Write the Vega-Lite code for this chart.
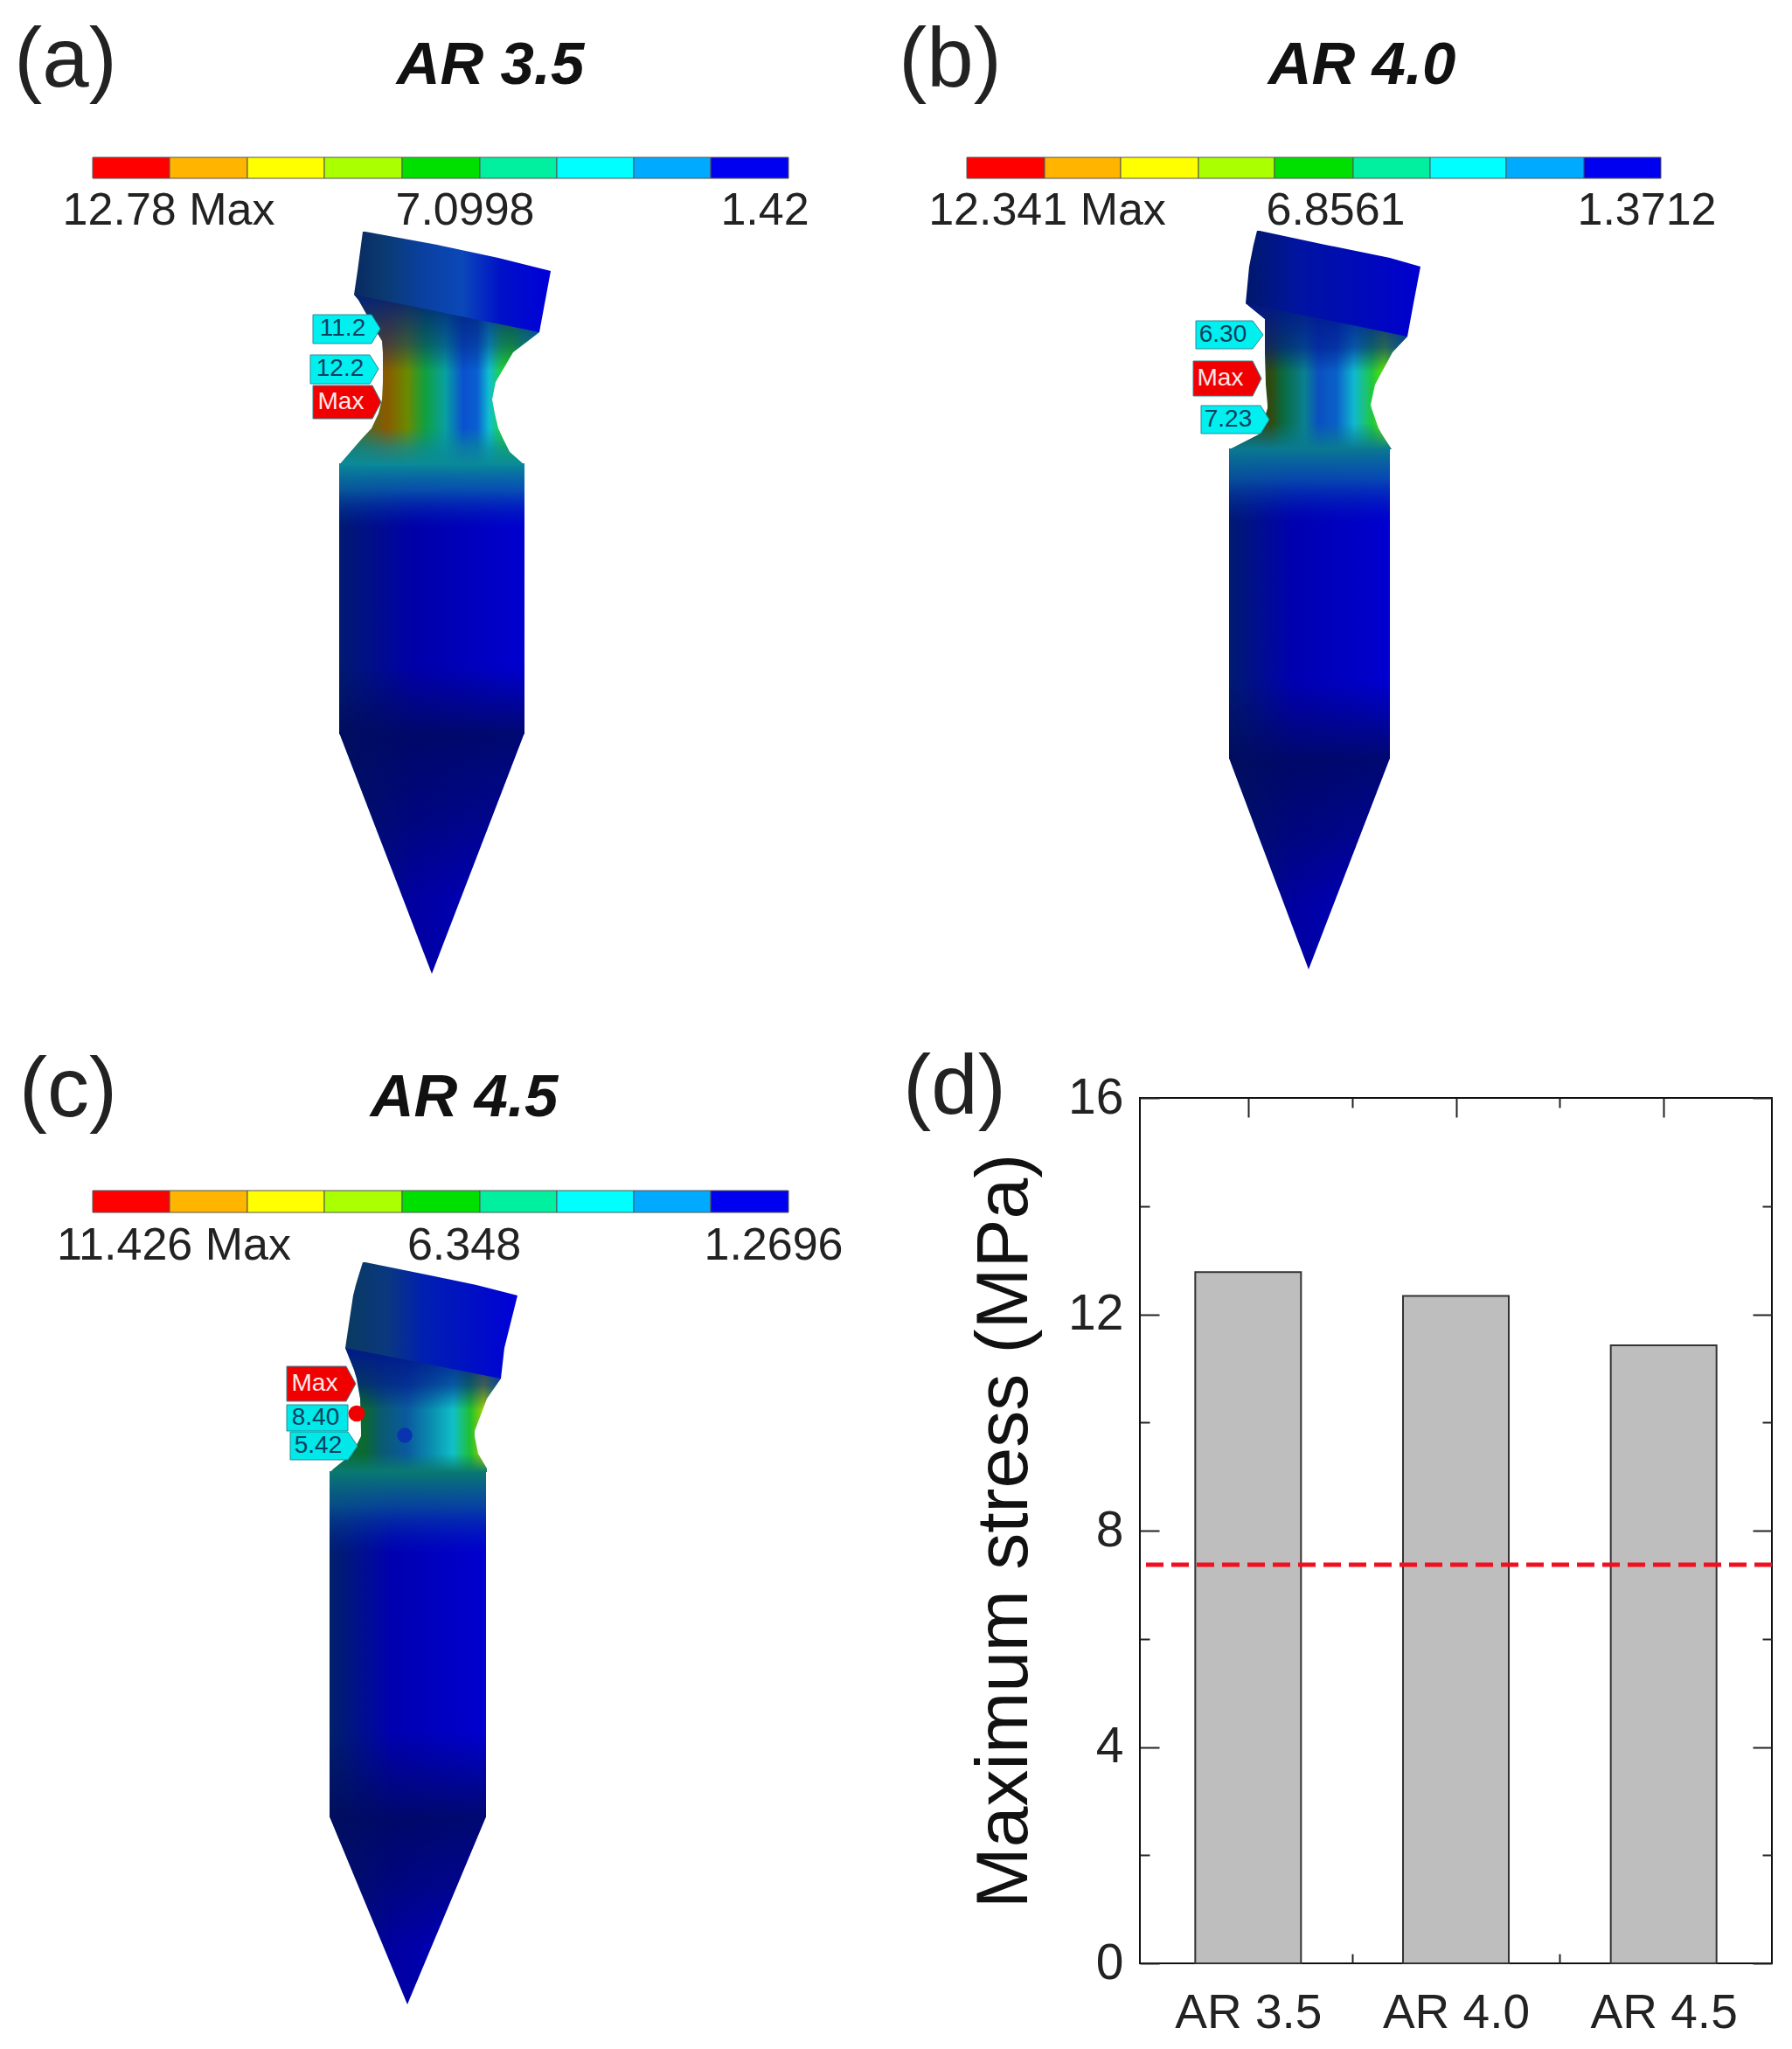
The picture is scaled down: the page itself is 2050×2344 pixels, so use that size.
{
"$schema":"https://vega.github.io/schema/vega-lite/v6.json",
"padding":0,
"background":"#ffffff",
"config":{"view":{"stroke":null},"font":"Liberation Sans","text":{"font":"Liberation Sans"}},
"spacing":26,
"vconcat":[
{"spacing":0,"hconcat":[
{"width":1025,"height":1170,
 "encoding":{"x":{"field":"xl","type":"quantitative","axis":null,"scale":{"domain":[0,1025],"nice":false,"zero":false}},"y":{"field":"y","type":"quantitative","axis":null,"scale":{"domain":[0,1170],"reverse":true,"nice":false,"zero":false}}},
 "resolve":{"scale":{"color":"independent"}},
 "layer":[
 {"data":{"values":[{"y":838,"xl":388,"xr":600},{"y":1114,"xl":494,"xr":494}]},"mark":{"type":"area","orient":"horizontal","color":{"gradient":"linear","x1":0,"y1":0,"x2":1,"y2":0,"stops":[{"offset":0,"color":"#001a70"},{"offset":0.4,"color":"#0000a0"},{"offset":1,"color":"#0000c8"}]}},"encoding":{"x2":{"field":"xr"}}},
 {"data":{"values":[{"y":838,"xl":388,"xr":600},{"y":1114,"xl":494,"xr":494}]},"mark":{"type":"area","orient":"horizontal","color":{"gradient":"linear","x1":0,"y1":0,"x2":0,"y2":1,"stops":[{"offset":0,"color":"rgba(0,10,90,0.8)"},{"offset":0.35,"color":"rgba(0,10,90,0.5)"},{"offset":0.7,"color":"rgba(0,10,90,0)"},{"offset":1,"color":"rgba(0,10,90,0)"}]}},"encoding":{"x2":{"field":"xr"}}},
 {"data":{"values":[{"y":530,"xl":388,"xr":600},{"y":840,"xl":388,"xr":600}]},"mark":{"type":"area","orient":"horizontal","color":{"gradient":"linear","x1":0,"y1":0,"x2":1,"y2":0,"stops":[{"offset":0,"color":"#001a70"},{"offset":0.4,"color":"#0000a8"},{"offset":1,"color":"#0000d0"}]}},"encoding":{"x2":{"field":"xr"}}},
 {"data":{"values":[{"y":530,"xl":388,"xr":600},{"y":840,"xl":388,"xr":600}]},"mark":{"type":"area","orient":"horizontal","color":{"gradient":"linear","x1":0,"y1":0,"x2":0,"y2":1,"stops":[{"offset":0,"color":"rgba(10,138,152,1)"},{"offset":0.1,"color":"rgba(10,110,170,0.7)"},{"offset":0.24,"color":"rgba(0,40,180,0)"},{"offset":0.75,"color":"rgba(0,10,90,0)"},{"offset":1,"color":"rgba(0,10,90,0.8)"}]}},"encoding":{"x2":{"field":"xr"}}},
 {"data":{"values":[{"y":337,"xl":405,"xr":610},{"y":343,"xl":410,"xr":612},{"y":380,"xl":431,"xr":617},{"y":390,"xl":437,"xr":604},{"y":403,"xl":438,"xr":587},{"y":437,"xl":438,"xr":567},{"y":457,"xl":437,"xr":563},{"y":473,"xl":433,"xr":566},{"y":490,"xl":425,"xr":570},{"y":503,"xl":413,"xr":576},{"y":517,"xl":401,"xr":583},{"y":532,"xl":388,"xr":600}]},"mark":{"type":"area","orient":"horizontal","color":{"gradient":"linear","x1":0,"y1":0,"x2":1,"y2":0,"stops":[{"offset":0,"color":"#0a7a50"},{"offset":0.24,"color":"#8a5a00"},{"offset":0.34,"color":"#6a8a00"},{"offset":0.43,"color":"#10a040"},{"offset":0.53,"color":"#08a0a0"},{"offset":0.62,"color":"#0a50d0"},{"offset":0.69,"color":"#0a60d0"},{"offset":0.75,"color":"#10c0d0"},{"offset":0.81,"color":"#20d040"},{"offset":0.86,"color":"#20d020"},{"offset":1,"color":"#10a0c0"}]}},"encoding":{"x2":{"field":"xr"}}},
 {"data":{"values":[{"y":337,"xl":405,"xr":610},{"y":343,"xl":410,"xr":612},{"y":380,"xl":431,"xr":617},{"y":390,"xl":437,"xr":604},{"y":403,"xl":438,"xr":587},{"y":437,"xl":438,"xr":567},{"y":457,"xl":437,"xr":563},{"y":473,"xl":433,"xr":566},{"y":490,"xl":425,"xr":570},{"y":503,"xl":413,"xr":576},{"y":517,"xl":401,"xr":583},{"y":532,"xl":388,"xr":600}]},"mark":{"type":"area","orient":"horizontal","color":{"gradient":"linear","x1":0,"y1":0,"x2":0,"y2":1,"stops":[{"offset":0,"color":"rgba(0,30,120,0.95)"},{"offset":0.3,"color":"rgba(0,30,120,0.45)"},{"offset":0.45,"color":"rgba(0,30,120,0)"},{"offset":0.78,"color":"rgba(10,138,152,0)"},{"offset":0.9,"color":"rgba(10,138,152,0.7)"},{"offset":1,"color":"rgba(10,138,152,1)"}]}},"encoding":{"x2":{"field":"xr"}}},
 {"data":{"values":[{"y":265,"xl":415,"xr":418},{"y":280,"xl":413,"xr":500},{"y":295,"xl":411,"xr":570},{"y":310,"xl":409,"xr":630},{"y":337,"xl":405,"xr":625},{"y":380,"xl":617,"xr":617}]},"mark":{"type":"area","orient":"horizontal","color":{"gradient":"linear","x1":0,"y1":0,"x2":1,"y2":0,"stops":[{"offset":0,"color":"#0a2a60"},{"offset":0.15,"color":"#0a3a70"},{"offset":0.35,"color":"#0a40a0"},{"offset":0.55,"color":"#0a48b8"},{"offset":0.75,"color":"#0010c8"},{"offset":1,"color":"#0000d8"}]}},"encoding":{"x2":{"field":"xr"}}},
 {"data":{"values":[{"tag":"11.2","kind":"value","y":360,"xl":358,"xr":425},{"tag":"11.2","kind":"value","y":376,"xl":358,"xr":435},{"tag":"11.2","kind":"value","y":393,"xl":358,"xr":425},{"tag":"12.2","kind":"value","y":406,"xl":355,"xr":423},{"tag":"12.2","kind":"value","y":422,"xl":355,"xr":433},{"tag":"12.2","kind":"value","y":439,"xl":355,"xr":423},{"tag":"Max","kind":"Max","y":441,"xl":358,"xr":426},{"tag":"Max","kind":"Max","y":460,"xl":358,"xr":436},{"tag":"Max","kind":"Max","y":479,"xl":358,"xr":426}]},"mark":{"type":"area","orient":"horizontal","stroke":"#2a8a9a","strokeWidth":1},"encoding":{"x2":{"field":"xr"},"detail":{"field":"tag"},"color":{"field":"kind","type":"nominal","legend":null,"scale":{"domain":["Max","value"],"range":["#f00000","#00f0f0"]}}}},
 {"data":{"values":[{"x":392,"y":376,"t":"11.2","kind":"value"},{"x":389,"y":422,"t":"12.2","kind":"value"},{"x":390,"y":460,"t":"Max","kind":"Max"}]},"mark":{"type":"text","fontSize":28,"align":"center","baseline":"middle"},"encoding":{"x":{"field":"x","type":"quantitative","axis":null},"text":{"field":"t"},"color":{"field":"kind","type":"nominal","legend":null,"scale":{"domain":["Max","value"],"range":["#ffe8e8","#0a4060"]}}}},
 {"data":{"values":[{"level":1,"x":106,"xe":194,"y":180,"ye":204},{"level":2,"x":194,"xe":283,"y":180,"ye":204},{"level":3,"x":283,"xe":371,"y":180,"ye":204},{"level":4,"x":371,"xe":460,"y":180,"ye":204},{"level":5,"x":460,"xe":549,"y":180,"ye":204},{"level":6,"x":549,"xe":637,"y":180,"ye":204},{"level":7,"x":637,"xe":725,"y":180,"ye":204},{"level":8,"x":725,"xe":813,"y":180,"ye":204},{"level":9,"x":813,"xe":902,"y":180,"ye":204}]},"mark":{"type":"rect","stroke":"#555555","strokeWidth":1},"encoding":{"x":{"field":"x","type":"quantitative","axis":null},"x2":{"field":"xe"},"y2":{"field":"ye"},"color":{"field":"level","type":"nominal","legend":null,"scale":{"domain":[1,2,3,4,5,6,7,8,9],"range":["#ff0000","#ffb400","#ffff00","#aaff00","#00e000","#00f0a0","#00ffff","#00aaff","#0000f0"]}}}},
 {"data":{"values":[{"x":193,"y":241,"t":"12.78 Max"},{"x":532,"y":241,"t":"7.0998"},{"x":875,"y":241,"t":"1.42"}]},"mark":{"type":"text","fontSize":52,"align":"center","baseline":"middle","color":"#222222"},"encoding":{"x":{"field":"x","type":"quantitative","axis":null},"text":{"field":"t"}}},
 {"data":{"values":[{"x":75,"y":70,"t":"(a)"}]},"mark":{"type":"text","fontSize":96,"align":"center","baseline":"middle","color":"#222222"},"encoding":{"x":{"field":"x","type":"quantitative","axis":null},"text":{"field":"t"}}},
 {"data":{"values":[{"x":561,"y":75,"t":"AR 3.5"}]},"mark":{"type":"text","fontSize":69,"fontWeight":"bold","fontStyle":"italic","align":"center","baseline":"middle","color":"#111111"},"encoding":{"x":{"field":"x","type":"quantitative","axis":null},"text":{"field":"t"}}}
 ]},
{"width":1025,"height":1170,
 "encoding":{"x":{"field":"xl","type":"quantitative","axis":null,"scale":{"domain":[1025,2050],"nice":false,"zero":false}},"y":{"field":"y","type":"quantitative","axis":null,"scale":{"domain":[0,1170],"reverse":true,"nice":false,"zero":false}}},
 "resolve":{"scale":{"color":"independent"}},
 "layer":[
 {"data":{"values":[{"y":867,"xl":1406,"xr":1590},{"y":1109,"xl":1497,"xr":1497}]},"mark":{"type":"area","orient":"horizontal","color":{"gradient":"linear","x1":0,"y1":0,"x2":1,"y2":0,"stops":[{"offset":0,"color":"#001a70"},{"offset":0.4,"color":"#0000a0"},{"offset":1,"color":"#0000c8"}]}},"encoding":{"x2":{"field":"xr"}}},
 {"data":{"values":[{"y":867,"xl":1406,"xr":1590},{"y":1109,"xl":1497,"xr":1497}]},"mark":{"type":"area","orient":"horizontal","color":{"gradient":"linear","x1":0,"y1":0,"x2":0,"y2":1,"stops":[{"offset":0,"color":"rgba(0,10,90,0.8)"},{"offset":0.35,"color":"rgba(0,10,90,0.5)"},{"offset":0.7,"color":"rgba(0,10,90,0)"},{"offset":1,"color":"rgba(0,10,90,0)"}]}},"encoding":{"x2":{"field":"xr"}}},
 {"data":{"values":[{"y":513,"xl":1406,"xr":1590},{"y":868,"xl":1406,"xr":1590}]},"mark":{"type":"area","orient":"horizontal","color":{"gradient":"linear","x1":0,"y1":0,"x2":1,"y2":0,"stops":[{"offset":0,"color":"#001a70"},{"offset":0.4,"color":"#0000b0"},{"offset":1,"color":"#0000d0"}]}},"encoding":{"x2":{"field":"xr"}}},
 {"data":{"values":[{"y":513,"xl":1406,"xr":1590},{"y":868,"xl":1406,"xr":1590}]},"mark":{"type":"area","orient":"horizontal","color":{"gradient":"linear","x1":0,"y1":0,"x2":0,"y2":1,"stops":[{"offset":0,"color":"rgba(10,122,144,1)"},{"offset":0.1,"color":"rgba(10,100,170,0.7)"},{"offset":0.24,"color":"rgba(0,40,180,0)"},{"offset":0.75,"color":"rgba(0,10,90,0)"},{"offset":1,"color":"rgba(0,10,90,0.8)"}]}},"encoding":{"x2":{"field":"xr"}}},
 {"data":{"values":[{"y":347,"xl":1425,"xr":1600},{"y":365,"xl":1447,"xr":1605},{"y":385,"xl":1447,"xr":1610},{"y":403,"xl":1447,"xr":1593},{"y":440,"xl":1448,"xr":1573},{"y":463,"xl":1450,"xr":1568},{"y":467,"xl":1450,"xr":1569},{"y":490,"xl":1443,"xr":1577},{"y":497,"xl":1440,"xr":1581},{"y":514,"xl":1407,"xr":1592}]},"mark":{"type":"area","orient":"horizontal","color":{"gradient":"linear","x1":0,"y1":0,"x2":1,"y2":0,"stops":[{"offset":0,"color":"#0a5a40"},{"offset":0.23,"color":"#304a10"},{"offset":0.3,"color":"#0a6a40"},{"offset":0.42,"color":"#0a8090"},{"offset":0.5,"color":"#0a50c0"},{"offset":0.6,"color":"#0a60c8"},{"offset":0.7,"color":"#10b8d0"},{"offset":0.8,"color":"#20c840"},{"offset":0.87,"color":"#60e000"},{"offset":1,"color":"#10a0b0"}]}},"encoding":{"x2":{"field":"xr"}}},
 {"data":{"values":[{"y":347,"xl":1425,"xr":1600},{"y":365,"xl":1447,"xr":1605},{"y":385,"xl":1447,"xr":1610},{"y":403,"xl":1447,"xr":1593},{"y":440,"xl":1448,"xr":1573},{"y":463,"xl":1450,"xr":1568},{"y":467,"xl":1450,"xr":1569},{"y":490,"xl":1443,"xr":1577},{"y":497,"xl":1440,"xr":1581},{"y":514,"xl":1407,"xr":1592}]},"mark":{"type":"area","orient":"horizontal","color":{"gradient":"linear","x1":0,"y1":0,"x2":0,"y2":1,"stops":[{"offset":0,"color":"rgba(0,20,140,0.95)"},{"offset":0.3,"color":"rgba(0,20,140,0.6)"},{"offset":0.47,"color":"rgba(0,20,140,0)"},{"offset":0.82,"color":"rgba(10,122,144,0)"},{"offset":1,"color":"rgba(10,122,144,1)"}]}},"encoding":{"x2":{"field":"xr"}}},
 {"data":{"values":[{"y":264,"xl":1438,"xr":1441},{"y":280,"xl":1434,"xr":1516},{"y":295,"xl":1431,"xr":1590},{"y":305,"xl":1429,"xr":1625},{"y":347,"xl":1425,"xr":1617},{"y":385,"xl":1610,"xr":1610}]},"mark":{"type":"area","orient":"horizontal","color":{"gradient":"linear","x1":0,"y1":0,"x2":1,"y2":0,"stops":[{"offset":0,"color":"#00186a"},{"offset":0.3,"color":"#0014a0"},{"offset":1,"color":"#0000d0"}]}},"encoding":{"x2":{"field":"xr"}}},
 {"data":{"values":[{"tag":"6.30","kind":"value","y":367,"xl":1368,"xr":1433},{"tag":"6.30","kind":"value","y":383,"xl":1368,"xr":1445},{"tag":"6.30","kind":"value","y":399,"xl":1368,"xr":1433},{"tag":"Max","kind":"Max","y":413,"xl":1365,"xr":1433},{"tag":"Max","kind":"Max","y":433,"xl":1365,"xr":1443},{"tag":"Max","kind":"Max","y":453,"xl":1365,"xr":1433},{"tag":"7.23","kind":"value","y":464,"xl":1374,"xr":1442},{"tag":"7.23","kind":"value","y":480,"xl":1374,"xr":1452},{"tag":"7.23","kind":"value","y":496,"xl":1374,"xr":1442}]},"mark":{"type":"area","orient":"horizontal","stroke":"#2a8a9a","strokeWidth":1},"encoding":{"x2":{"field":"xr"},"detail":{"field":"tag"},"color":{"field":"kind","type":"nominal","legend":null,"scale":{"domain":["Max","value"],"range":["#f00000","#00f0f0"]}}}},
 {"data":{"values":[{"x":1399,"y":383,"t":"6.30","kind":"value"},{"x":1396,"y":433,"t":"Max","kind":"Max"},{"x":1405,"y":480,"t":"7.23","kind":"value"}]},"mark":{"type":"text","fontSize":28,"align":"center","baseline":"middle"},"encoding":{"x":{"field":"x","type":"quantitative","axis":null},"text":{"field":"t"},"color":{"field":"kind","type":"nominal","legend":null,"scale":{"domain":["Max","value"],"range":["#ffe8e8","#0a4060"]}}}},
 {"data":{"values":[{"level":1,"x":1106,"xe":1195,"y":180,"ye":204},{"level":2,"x":1195,"xe":1282,"y":180,"ye":204},{"level":3,"x":1282,"xe":1371,"y":180,"ye":204},{"level":4,"x":1371,"xe":1458,"y":180,"ye":204},{"level":5,"x":1458,"xe":1548,"y":180,"ye":204},{"level":6,"x":1548,"xe":1636,"y":180,"ye":204},{"level":7,"x":1636,"xe":1723,"y":180,"ye":204},{"level":8,"x":1723,"xe":1812,"y":180,"ye":204},{"level":9,"x":1812,"xe":1900,"y":180,"ye":204}]},"mark":{"type":"rect","stroke":"#555555","strokeWidth":1},"encoding":{"x":{"field":"x","type":"quantitative","axis":null},"x2":{"field":"xe"},"y2":{"field":"ye"},"color":{"field":"level","type":"nominal","legend":null,"scale":{"domain":[1,2,3,4,5,6,7,8,9],"range":["#ff0000","#ffb400","#ffff00","#aaff00","#00e000","#00f0a0","#00ffff","#00aaff","#0000f0"]}}}},
 {"data":{"values":[{"x":1198,"y":241,"t":"12.341 Max"},{"x":1528,"y":241,"t":"6.8561"},{"x":1884,"y":241,"t":"1.3712"}]},"mark":{"type":"text","fontSize":52,"align":"center","baseline":"middle","color":"#222222"},"encoding":{"x":{"field":"x","type":"quantitative","axis":null},"text":{"field":"t"}}},
 {"data":{"values":[{"x":1087,"y":70,"t":"(b)"}]},"mark":{"type":"text","fontSize":96,"align":"center","baseline":"middle","color":"#222222"},"encoding":{"x":{"field":"x","type":"quantitative","axis":null},"text":{"field":"t"}}},
 {"data":{"values":[{"x":1558,"y":75,"t":"AR 4.0"}]},"mark":{"type":"text","fontSize":69,"fontWeight":"bold","fontStyle":"italic","align":"center","baseline":"middle","color":"#111111"},"encoding":{"x":{"field":"x","type":"quantitative","axis":null},"text":{"field":"t"}}}
 ]}
]},
{"spacing":7,"hconcat":[
{"width":1025,"height":1088,
 "encoding":{"x":{"field":"xl","type":"quantitative","axis":null,"scale":{"domain":[0,1025],"nice":false,"zero":false}},"y":{"field":"y","type":"quantitative","axis":null,"scale":{"domain":[1256,2344],"reverse":true,"nice":false,"zero":false}}},
 "resolve":{"scale":{"color":"independent"}},
 "layer":[
 {"data":{"values":[{"y":2078,"xl":377,"xr":556},{"y":2293,"xl":466,"xr":466}]},"mark":{"type":"area","orient":"horizontal","color":{"gradient":"linear","x1":0,"y1":0,"x2":1,"y2":0,"stops":[{"offset":0,"color":"#001a70"},{"offset":0.4,"color":"#0000a0"},{"offset":1,"color":"#0000c8"}]}},"encoding":{"x2":{"field":"xr"}}},
 {"data":{"values":[{"y":2078,"xl":377,"xr":556},{"y":2293,"xl":466,"xr":466}]},"mark":{"type":"area","orient":"horizontal","color":{"gradient":"linear","x1":0,"y1":0,"x2":0,"y2":1,"stops":[{"offset":0,"color":"rgba(0,10,90,0.8)"},{"offset":0.35,"color":"rgba(0,10,90,0.5)"},{"offset":0.7,"color":"rgba(0,10,90,0)"},{"offset":1,"color":"rgba(0,10,90,0)"}]}},"encoding":{"x2":{"field":"xr"}}},
 {"data":{"values":[{"y":1683,"xl":377,"xr":556},{"y":2079,"xl":377,"xr":556}]},"mark":{"type":"area","orient":"horizontal","color":{"gradient":"linear","x1":0,"y1":0,"x2":1,"y2":0,"stops":[{"offset":0,"color":"#00206a"},{"offset":0.4,"color":"#0000b0"},{"offset":1,"color":"#0000d0"}]}},"encoding":{"x2":{"field":"xr"}}},
 {"data":{"values":[{"y":1683,"xl":377,"xr":556},{"y":2079,"xl":377,"xr":556}]},"mark":{"type":"area","orient":"horizontal","color":{"gradient":"linear","x1":0,"y1":0,"x2":0,"y2":1,"stops":[{"offset":0,"color":"rgba(10,122,112,1)"},{"offset":0.1,"color":"rgba(10,96,144,0.7)"},{"offset":0.24,"color":"rgba(0,40,180,0)"},{"offset":0.75,"color":"rgba(0,10,90,0)"},{"offset":1,"color":"rgba(0,10,90,0.8)"}]}},"encoding":{"x2":{"field":"xr"}}},
 {"data":{"values":[{"y":1542,"xl":395,"xr":565},{"y":1567,"xl":405,"xr":570},{"y":1577,"xl":408,"xr":573},{"y":1600,"xl":412,"xr":557},{"y":1637,"xl":413,"xr":543},{"y":1643,"xl":413,"xr":543},{"y":1663,"xl":403,"xr":547},{"y":1680,"xl":382,"xr":557},{"y":1684,"xl":378,"xr":557}]},"mark":{"type":"area","orient":"horizontal","color":{"gradient":"linear","x1":0,"y1":0,"x2":1,"y2":0,"stops":[{"offset":0,"color":"#0a7040"},{"offset":0.2,"color":"#0a6a30"},{"offset":0.3,"color":"#0a5a70"},{"offset":0.45,"color":"#0a5aa0"},{"offset":0.6,"color":"#0a90b0"},{"offset":0.72,"color":"#10c0c8"},{"offset":0.82,"color":"#20c030"},{"offset":0.9,"color":"#a0d000"},{"offset":1,"color":"#10a0a0"}]}},"encoding":{"x2":{"field":"xr"}}},
 {"data":{"values":[{"y":1542,"xl":395,"xr":565},{"y":1567,"xl":405,"xr":570},{"y":1577,"xl":408,"xr":573},{"y":1600,"xl":412,"xr":557},{"y":1637,"xl":413,"xr":543},{"y":1643,"xl":413,"xr":543},{"y":1663,"xl":403,"xr":547},{"y":1680,"xl":382,"xr":557},{"y":1684,"xl":378,"xr":557}]},"mark":{"type":"area","orient":"horizontal","color":{"gradient":"linear","x1":0,"y1":0,"x2":0,"y2":1,"stops":[{"offset":0,"color":"rgba(0,20,140,0.95)"},{"offset":0.3,"color":"rgba(0,20,140,0.6)"},{"offset":0.5,"color":"rgba(0,20,140,0)"},{"offset":0.85,"color":"rgba(10,122,112,0)"},{"offset":1,"color":"rgba(10,122,112,1)"}]}},"encoding":{"x2":{"field":"xr"}}},
 {"data":{"values":[{"y":1444,"xl":415,"xr":418},{"y":1460,"xl":410,"xr":497},{"y":1470,"xl":407,"xr":545},{"y":1482,"xl":404,"xr":592},{"y":1542,"xl":395,"xr":577},{"y":1577,"xl":573,"xr":573}]},"mark":{"type":"area","orient":"horizontal","color":{"gradient":"linear","x1":0,"y1":0,"x2":1,"y2":0,"stops":[{"offset":0,"color":"#0a3a60"},{"offset":0.25,"color":"#0a3880"},{"offset":0.45,"color":"#0020b0"},{"offset":1,"color":"#0000d8"}]}},"encoding":{"x2":{"field":"xr"}}},
 {"data":{"values":[{"x":463,"y":1642}]},"mark":{"type":"point","filled":true,"size":300,"opacity":0.9,"color":"#0a30b0"},"encoding":{"x":{"field":"x","type":"quantitative","axis":null}}},
 {"data":{"values":[{"tag":"Max","kind":"Max","y":1563,"xl":328,"xr":396},{"tag":"Max","kind":"Max","y":1583,"xl":328,"xr":407},{"tag":"Max","kind":"Max","y":1603,"xl":328,"xr":396},{"tag":"8.40","kind":"value","y":1607,"xl":328,"xr":398},{"tag":"8.40","kind":"value","y":1637,"xl":328,"xr":398},{"tag":"5.42","kind":"value","y":1638,"xl":332,"xr":398},{"tag":"5.42","kind":"value","y":1654,"xl":332,"xr":409},{"tag":"5.42","kind":"value","y":1670,"xl":332,"xr":398}]},"mark":{"type":"area","orient":"horizontal","stroke":"#2a8a9a","strokeWidth":1},"encoding":{"x2":{"field":"xr"},"detail":{"field":"tag"},"color":{"field":"kind","type":"nominal","legend":null,"scale":{"domain":["Max","value"],"range":["#f00000","#00e8e8"]}}}},
 {"data":{"values":[{"x":408,"y":1617}]},"mark":{"type":"point","filled":true,"size":350,"opacity":1,"color":"#f00000"},"encoding":{"x":{"field":"x","type":"quantitative","axis":null}}},
 {"data":{"values":[{"x":360,"y":1583,"t":"Max","kind":"Max"},{"x":361,"y":1622,"t":"8.40","kind":"value"},{"x":364,"y":1654,"t":"5.42","kind":"value"}]},"mark":{"type":"text","fontSize":28,"align":"center","baseline":"middle"},"encoding":{"x":{"field":"x","type":"quantitative","axis":null},"text":{"field":"t"},"color":{"field":"kind","type":"nominal","legend":null,"scale":{"domain":["Max","value"],"range":["#ffe8e8","#0a4060"]}}}},
 {"data":{"values":[{"level":1,"x":106,"xe":194,"y":1362,"ye":1387},{"level":2,"x":194,"xe":283,"y":1362,"ye":1387},{"level":3,"x":283,"xe":371,"y":1362,"ye":1387},{"level":4,"x":371,"xe":460,"y":1362,"ye":1387},{"level":5,"x":460,"xe":549,"y":1362,"ye":1387},{"level":6,"x":549,"xe":637,"y":1362,"ye":1387},{"level":7,"x":637,"xe":725,"y":1362,"ye":1387},{"level":8,"x":725,"xe":813,"y":1362,"ye":1387},{"level":9,"x":813,"xe":902,"y":1362,"ye":1387}]},"mark":{"type":"rect","stroke":"#555555","strokeWidth":1},"encoding":{"x":{"field":"x","type":"quantitative","axis":null},"x2":{"field":"xe"},"y2":{"field":"ye"},"color":{"field":"level","type":"nominal","legend":null,"scale":{"domain":[1,2,3,4,5,6,7,8,9],"range":["#ff0000","#ffb400","#ffff00","#aaff00","#00e000","#00f0a0","#00ffff","#00aaff","#0000f0"]}}}},
 {"data":{"values":[{"x":199,"y":1425,"t":"11.426 Max"},{"x":531,"y":1425,"t":"6.348"},{"x":885,"y":1425,"t":"1.2696"}]},"mark":{"type":"text","fontSize":52,"align":"center","baseline":"middle","color":"#222222"},"encoding":{"x":{"field":"x","type":"quantitative","axis":null},"text":{"field":"t"}}},
 {"data":{"values":[{"x":78,"y":1256,"t":"(c)"}]},"mark":{"type":"text","fontSize":96,"align":"center","baseline":"middle","color":"#222222","dy":-8},"encoding":{"x":{"field":"x","type":"quantitative","axis":null},"text":{"field":"t"}}},
 {"data":{"values":[{"x":531,"y":1256,"t":"AR 4.5"}]},"mark":{"type":"text","fontSize":69,"fontWeight":"bold","fontStyle":"italic","align":"center","baseline":"middle","color":"#111111"},"encoding":{"x":{"field":"x","type":"quantitative","axis":null},"text":{"field":"t"}}}
 ]},
{"width":723,"height":990,
 "view":{"stroke":"#111111","strokeWidth":2},
 "data":{"values":[{"ar":3.5,"stress":12.78},{"ar":4.0,"stress":12.341},{"ar":4.5,"stress":11.426}]},
 "resolve":{"axis":{"x":"independent","y":"independent"}},
 "layer":[
 {"mark":{"type":"bar","size":121,"fill":"#bebebe","stroke":"#333333","strokeWidth":2},
  "encoding":{"x":{"field":"ar","type":"quantitative","scale":{"domain":[3.25,4.75],"nice":false,"zero":false},"axis":{"orient":"bottom","values":[3.5,4,4.5],"labelExpr":"'AR ' + format(datum.value,'.1f')","title":null,"grid":false,"domain":false,"tickSize":-22,"tickWidth":2,"tickColor":"#222222","labelFontSize":55,"labelColor":"#222222","labelPadding":52,"labelFont":"Liberation Sans"}},
  "y":{"field":"stress","type":"quantitative","scale":{"domain":[0,16],"nice":false,"zero":true},"axis":{"orient":"left","values":[0,4,8,12,16],"title":"Maximum stress (MPa)","titleFontSize":84,"titleFontWeight":"normal","titleColor":"#111111","titleFont":"Liberation Sans","titlePadding":29,"grid":false,"domain":false,"tickSize":-22,"tickWidth":2,"tickColor":"#222222","labelFontSize":57,"labelColor":"#222222","labelPadding":41,"labelFont":"Liberation Sans"}}}},
 {"data":{"values":[{"limit":7.37}]},"mark":{"type":"rule","color":"#f01020","strokeWidth":5,"strokeDash":[20,9]},"encoding":{"y":{"field":"limit","type":"quantitative","axis":null}}},
 {"mark":{"type":"point","opacity":0},"encoding":{"x":{"field":"ar","type":"quantitative","axis":{"orient":"bottom","values":[3.75,4.25],"labels":false,"title":null,"grid":false,"domain":false,"tickSize":-11,"tickWidth":2,"tickColor":"#222222"}},"y":{"field":"stress","type":"quantitative","axis":{"orient":"left","values":[2,6,10,14],"labels":false,"title":null,"grid":false,"domain":false,"tickSize":-11,"tickWidth":2,"tickColor":"#222222"}}}},
 {"mark":{"type":"point","opacity":0},"encoding":{"x":{"field":"ar","type":"quantitative","axis":{"orient":"top","values":[3.5,4,4.5],"labels":false,"title":null,"grid":false,"domain":false,"tickSize":-22,"tickWidth":2,"tickColor":"#222222"}},"y":{"field":"stress","type":"quantitative","axis":{"orient":"right","values":[0,4,8,12,16],"labels":false,"title":null,"grid":false,"domain":false,"tickSize":-22,"tickWidth":2,"tickColor":"#222222"}}}},
 {"mark":{"type":"point","opacity":0},"encoding":{"x":{"field":"ar","type":"quantitative","axis":{"orient":"top","values":[3.75,4.25],"labels":false,"title":null,"grid":false,"domain":false,"tickSize":-11,"tickWidth":2,"tickColor":"#222222"}},"y":{"field":"stress","type":"quantitative","axis":{"orient":"right","values":[2,6,10,14],"labels":false,"title":null,"grid":false,"domain":false,"tickSize":-11,"tickWidth":2,"tickColor":"#222222"}}}},
 {"data":{"values":[{"ar":3.25,"stress":16,"label":"(d)"}]},"mark":{"type":"text","fontSize":96,"align":"center","baseline":"middle","color":"#222222","dx":-217,"dy":-11},"encoding":{"x":{"field":"ar","type":"quantitative","axis":null},"y":{"field":"stress","type":"quantitative","axis":null},"text":{"field":"label"}}}
 ]}
]}
]}
